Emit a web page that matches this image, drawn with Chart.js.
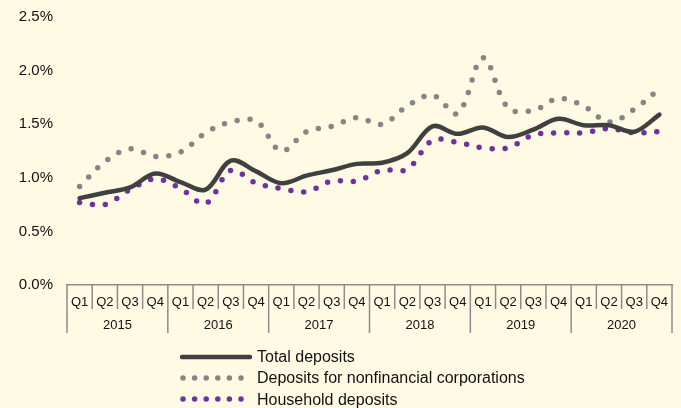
<!DOCTYPE html>
<html>
<head>
    <title>Deposit rates</title>
    <script src="https://cdn.jsdelivr.net/npm/chart.js"></script>
    <style>
        body {
            margin: 0;
            padding: 0;
            background: #fffae3;
            font-family: Arial, "Liberation Sans", sans-serif;
        }

        #wrap {
            position: relative;
            width: 681px;
            height: 408px;
            background: #fffae3;
        }

        #legend {
            position: absolute;
            left: 180px;
            top: 346px;
            font-size: 16px;
            color: #111;
        }

        .row {
            height: 21.3px;
            line-height: 21.3px;
            white-space: nowrap;
        }

        .row svg {
            vertical-align: middle;
            margin-right: 5px;
            position: relative;
            top: -1px;
        }
    </style>
</head>
<body>
    <div id="wrap">
        <canvas id="myChart" width="681" height="408"></canvas>
        <div id="legend"></div>
    </div>

    <script>
        const years = ['2015', '2016', '2017', '2018', '2019', '2020'];
        const quarters = ['Q1', 'Q2', 'Q3', 'Q4'];
        const yTicks = [0, 0.5, 1.0, 1.5, 2.0, 2.5];

        const totalDeposits = [0.81, 0.86, 0.91, 1.04, 0.96, 0.89, 1.16, 1.06, 0.95, 1.02, 1.07, 1.13,
                               1.14, 1.23, 1.48, 1.41, 1.47, 1.38, 1.45, 1.55, 1.49, 1.49, 1.43, 1.59];
        const corporateDeposits = [0.92, 1.15, 1.27, 1.20, 1.24, 1.42, 1.52, 1.53, 1.25, 1.43, 1.48, 1.56,
                                   1.50, 1.67, 1.77, 1.60, 2.12, 1.65, 1.63, 1.74, 1.67, 1.52, 1.64, 1.83];
        const householdDeposits = [0.77, 0.75, 0.89, 0.99, 0.90, 0.76, 1.07, 0.95, 0.90, 0.87, 0.97, 0.97,
                                   1.07, 1.08, 1.35, 1.33, 1.28, 1.28, 1.40, 1.42, 1.42, 1.46, 1.42, 1.43];

        const labels = [];
        years.forEach(y => quarters.forEach(q => labels.push(q)));

        const series = [
            { label: 'Total deposits', data: totalDeposits, color: '#404040', dotted: false },
            { label: 'Deposits for nonfinancial corporations', data: corporateDeposits, color: '#858585', dotted: true },
            { label: 'Household deposits', data: householdDeposits, color: '#7030a0', dotted: true }
        ];

        // two-level category axis (quarters / years) drawn from the x scale
        const groupAxis = {
            id: 'groupAxis',
            afterDraw(chart) {
                const ctx = chart.ctx;
                const xs = chart.scales.x;
                const top = xs.top;
                const step = xs.getPixelForValue(1) - xs.getPixelForValue(0);
                const edge = i => xs.getPixelForValue(0) - step / 2 + i * step;

                ctx.save();
                ctx.strokeStyle = '#8c8c8c';
                ctx.lineWidth = 1.5;
                for (let i = 0; i <= labels.length; i++) {
                    const x = edge(i);
                    const bottom = (i % 4 === 0) ? top + 48 : top + 24;
                    ctx.beginPath();
                    ctx.moveTo(x, top);
                    ctx.lineTo(x, bottom);
                    ctx.stroke();
                }

                ctx.fillStyle = '#111';
                ctx.textAlign = 'center';
                ctx.textBaseline = 'middle';
                ctx.font = '13px Arial, "Liberation Sans", sans-serif';
                labels.forEach((q, i) => {
                    ctx.fillText(q, xs.getPixelForValue(i), top + 17);
                });
                years.forEach((y, j) => {
                    const mid = (edge(j * 4) + edge(j * 4 + 4)) / 2;
                    ctx.fillText(y, mid, top + 40.5);
                });
                ctx.restore();
            }
        };

        new Chart(document.getElementById('myChart'), {
            type: 'line',
            data: {
                labels: labels,
                datasets: series.map(s => ({
                    label: s.label,
                    data: s.data,
                    borderColor: s.color,
                    backgroundColor: s.color,
                    borderWidth: s.dotted ? 5.5 : 4.5,
                    borderDash: s.dotted ? [0, 13] : [],
                    borderCapStyle: 'round',
                    borderJoinStyle: 'round',
                    pointRadius: 0,
                    tension: 0.35,
                    fill: false
                }))
            },
            plugins: [groupAxis],
            options: {
                responsive: false,
                animation: false,
                devicePixelRatio: 1,
                layout: {
                    padding: { top: 17, right: 9, bottom: 123, left: 0 }
                },
                plugins: {
                    legend: { display: false },
                    tooltip: { enabled: false }
                },
                scales: {
                    x: {
                        type: 'category',
                        offset: true,
                        grid: { display: false, drawTicks: false },
                        border: { display: true, color: '#8c8c8c', width: 1.5 },
                        ticks: { display: false }
                    },
                    y: {
                        min: 0,
                        max: 2.5,
                        afterFit(scale) {
                            scale.width = 67;
                            scale.paddingTop = 0;
                            scale.paddingBottom = 0;
                        },
                        afterBuildTicks(scale) { scale.ticks = yTicks.map(v => ({ value: v })); },
                        grid: { display: false, drawTicks: false },
                        border: { display: false },
                        ticks: {
                            padding: 14,
                            color: '#111',
                            font: { family: 'Arial, "Liberation Sans", sans-serif', size: 15 },
                            callback: v => v.toFixed(1) + '%'
                        }
                    }
                }
            }
        });

        // legend as a vertical list under the axis
        const legend = document.getElementById('legend');
        series.forEach(s => {
            const row = document.createElement('div');
            row.className = 'row';
            const line = s.dotted
                ? `<line x1="3" y1="5" x2="70" y2="5" stroke="${s.color}" stroke-width="5.5" stroke-linecap="round" stroke-dasharray="0 11.6"/>`
                : `<line x1="2" y1="5" x2="70" y2="5" stroke="${s.color}" stroke-width="4.5" stroke-linecap="round"/>`;
            row.innerHTML = `<svg width="72" height="10">${line}</svg>${s.label}`;
            legend.appendChild(row);
        });
    </script>
</body>
</html>
